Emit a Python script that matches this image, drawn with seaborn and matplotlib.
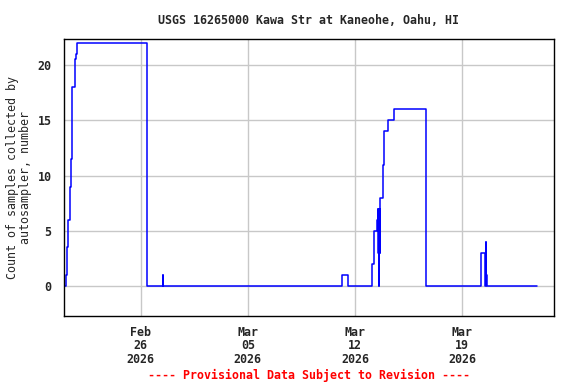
import pandas as pd
import numpy as np
import matplotlib
matplotlib.use("Agg")
import matplotlib.pyplot as plt
import matplotlib.dates as mdates
import seaborn as sns

sns.set_style("white")
plt.rcParams['font.family'] = ['DejaVu Sans Mono']
plt.rcParams['font.weight'] = 'bold'

# readings of the autosampler count (step series)
times = ['2026-02-21 00:15', '2026-02-21 03:50', '2026-02-21 05:20', '2026-02-21 06:55',
         '2026-02-21 09:05', '2026-02-21 10:40', '2026-02-21 12:15', '2026-02-21 16:55',
         '2026-02-21 18:30', '2026-02-21 21:00', '2026-02-26 09:25', '2026-02-27 10:35',
         '2026-02-27 10:50', '2026-03-11 03:35', '2026-03-11 13:00', '2026-03-13 02:40',
         '2026-03-13 05:45', '2026-03-13 10:30', '2026-03-13 11:35', '2026-03-13 12:40',
         '2026-03-13 13:40', '2026-03-13 14:20', '2026-03-13 15:15', '2026-03-13 15:55',
         '2026-03-13 19:55', '2026-03-13 21:35', '2026-03-14 03:50', '2026-03-14 13:15',
         '2026-03-16 15:20', '2026-03-20 04:50', '2026-03-20 12:25', '2026-03-20 12:55',
         '2026-03-20 14:00', '2026-03-20 15:20', '2026-03-23 20:50']
counts = [0, 1, 3.5, 6,
          9, 11.5, 18, 20.5,
          21, 22, 0, 1,
          0, 1, 0, 2,
          5, 6, 7, 3,
          0, 7, 3, 8,
          11, 14, 15, 16,
          0, 3, 0, 4,
          1, 0, 0]
tick_dates = ['2026-02-26', '2026-03-05', '2026-03-12', '2026-03-19']
y_ticks = [0, 5, 10, 15, 20]

df = pd.DataFrame({'time': pd.to_datetime(times), 'count': counts})

fig = plt.figure(figsize=(5.76, 3.84), dpi=100)
ax = fig.add_axes([64/576, 1-316/384, 490/576, 277/384])

sns.lineplot(x='time', y='count', data=df, ax=ax, color='#0000ff', linewidth=1.1,
             drawstyle='steps-post', estimator=None, sort=False)

ax.set_xlim(pd.Timestamp('2026-02-21'), pd.Timestamp('2026-03-25'))
ax.set_ylim(-2.7, 22.35)
ax.set_xticks(pd.to_datetime(tick_dates))
ax.xaxis.set_major_formatter(mdates.DateFormatter('%b\n%d\n%Y'))
ax.set_yticks(y_ticks)
ax.grid(True, color='#c8c8c8', linewidth=1.0)
ax.set_axisbelow(True)
ax.tick_params(axis='both', length=0, labelsize=8.4)
ax.tick_params(axis='y', pad=9)
ax.tick_params(axis='x', pad=7)
for lab in ax.get_xticklabels():
    lab.set_linespacing(1.05)
for sp in ax.spines.values():
    sp.set_color('black')
    sp.set_linewidth(1.0)

ax.set_xlabel('')
ax.set_ylabel('Count of samples collected by\nautosampler, number', fontsize=8.4,
              linespacing=1.0, labelpad=4)
fig.text(309/576, 1-21/384, 'USGS 16265000 Kawa Str at Kaneohe, Oahu, HI',
         ha='center', va='center', fontsize=8.4, fontweight='bold')
fig.text(309/576, 1-375/384, '---- Provisional Data Subject to Revision ----',
         ha='center', va='center', fontsize=8.4, fontweight='bold', color='#ff0000')

fig.savefig('out.png', dpi=100)
